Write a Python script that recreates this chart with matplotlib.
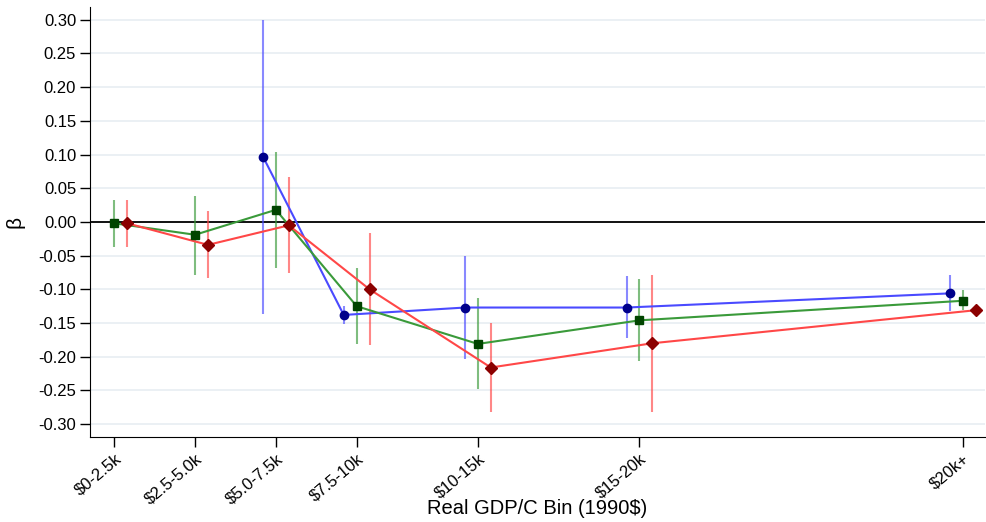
import matplotlib
matplotlib.use("Agg")
import matplotlib.pyplot as plt
import numpy as np

plt.rcParams["font.family"] = ["Liberation Sans", "DejaVu Sans"]

# bin midpoints in $1000s (1990$)
bin_mid = [1.25, 3.75, 6.25, 8.75, 12.5, 17.5, 27.5]
bin_labels = ["$0-2.5k", "$2.5-5.0k", "$5.0-7.5k", "$7.5-10k", "$10-15k", "$15-20k", "$20k+"]

# blue series (circles) starts at third bin
blue_x = [6.25, 8.75, 12.5, 17.5, 27.5]
blue_b = [0.097, -0.138, -0.127, -0.127, -0.106]
blue_lo = [-0.137, -0.152, -0.203, -0.172, -0.132]
blue_hi = [0.300, -0.125, -0.050, -0.080, -0.079]

green_b = [-0.002, -0.019, 0.018, -0.125, -0.181, -0.146, -0.117]
green_lo = [-0.037, -0.079, -0.068, -0.181, -0.248, -0.207, -0.131]
green_hi = [0.033, 0.039, 0.104, -0.068, -0.113, -0.085, -0.101]

red_b = [-0.002, -0.034, -0.005, -0.100, -0.216, -0.180, -0.131]
red_lo = [-0.037, -0.083, -0.076, -0.183, -0.282, -0.282, -0.135]
red_hi = [0.033, 0.016, 0.066, -0.017, -0.150, -0.079, -0.127]

yticks = [-0.30, -0.25, -0.20, -0.15, -0.10, -0.05, 0.0, 0.05, 0.10, 0.15, 0.20, 0.25, 0.30]

fig = plt.figure(figsize=(9.86, 5.22), dpi=100)
ax = fig.add_axes([0.0913, 0.163, 0.908, 0.8236])

for t in yticks:
    ax.axhline(t, color="#e8eef2", lw=1.2, zorder=0)
ax.axhline(0, color="black", lw=1.3, zorder=1)

off = 0.4
series = [
    (np.array(blue_x) - off, blue_b, blue_lo, blue_hi, "#4a4aff", "#00008b", "o", 6),
    (np.array(bin_mid), green_b, green_lo, green_hi, "#3a9a3a", "#004400", "s", 6),
    (np.array(bin_mid) + off, red_b, red_lo, red_hi, "#ff4747", "#8b0000", "D", 6),
]
for xs, b, lo, hi, lc, mc, mk, ms in series:
    ax.vlines(xs, lo, hi, color=lc, alpha=0.65, lw=1.5, zorder=2)
    ax.plot(xs, b, color=lc, lw=1.5, zorder=3)
    ax.plot(xs, b, ls="none", marker=mk, ms=ms, color=mc, zorder=4)

ax.set_xlim(0.5, 28.2)
ax.set_ylim(-0.319, 0.319)
ax.set_yticks(yticks)
ax.set_yticklabels([f"{v + 0.0:.2f}" for v in yticks], fontsize=12)
ax.set_xticks(bin_mid)
ax.set_xticklabels(bin_labels, rotation=40, ha="right", rotation_mode="anchor", fontsize=12)
ax.tick_params(direction="out", length=7, width=1, pad=3)
ax.spines["top"].set_visible(False)
ax.spines["right"].set_visible(False)
ax.set_ylabel("β", fontsize=15, labelpad=10, rotation=90)
fig.text(0.545, 0.008, "Real GDP/C Bin (1990$)", fontsize=14.5, ha="center", va="bottom")

fig.savefig("out.png", dpi=100)
